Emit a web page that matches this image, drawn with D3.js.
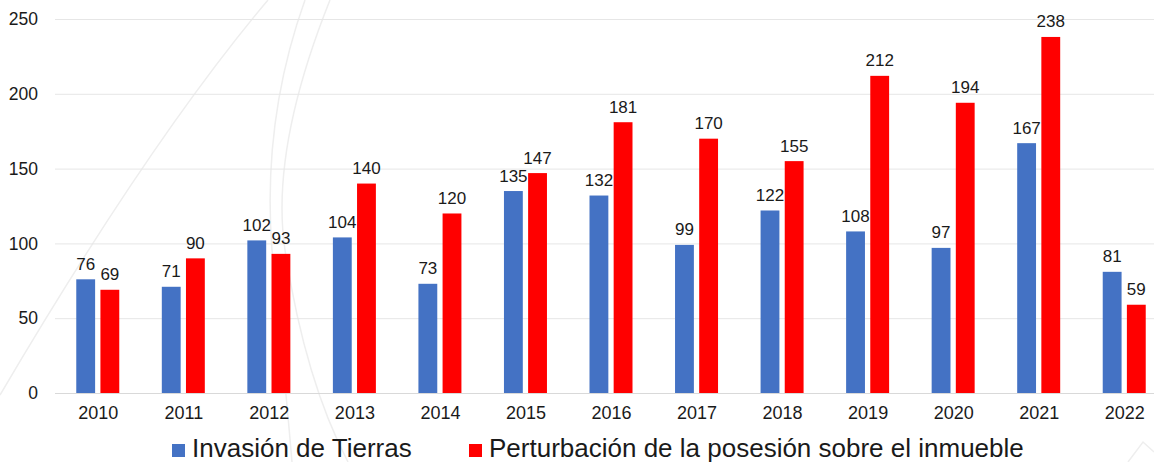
<!DOCTYPE html>
<html>
<head>
<meta charset="utf-8">
<script src="https://cdn.jsdelivr.net/npm/d3@7"></script>
<style>
  body { margin: 0; background: #fff; }
  text { font-family: "Liberation Sans", Arial, sans-serif; fill: #1a1a1a; }
</style>
</head>
<body>
<svg id="svg"></svg>
<script>
var years    = ["2010", "2011", "2012", "2013", "2014", "2015", "2016", "2017", "2018", "2019", "2020", "2021", "2022"];
var invasion = [76, 71, 102, 104, 73, 135, 132, 99, 122, 108, 97, 167, 81];
var perturb  = [69, 90, 93, 140, 120, 147, 181, 170, 155, 212, 194, 238, 59];
var seriesNames  = ["Invasión de Tierras", "Perturbación de la posesión sobre el inmueble"];
var seriesColors = ["#4472C4", "#FF0000"];
var yTicks = [0, 50, 100, 150, 200, 250];

var W = 1154, H = 462;
var svg = d3.select("#svg").attr("width", W).attr("height", H);

// faint decorative watermark curves in the background
var wm = svg.append("g").attr("fill", "none").attr("stroke", "#eeeeee").attr("stroke-width", 1.5);
wm.append("path").attr("d", "M268,0 Q150,140 0,395");
wm.append("path").attr("d", "M305,0 Q262,120 272,250 Q285,380 292,462");
wm.append("path").attr("d", "M330,0 Q270,150 285,250 Q305,380 348,462");
wm.append("path").attr("d", "M1128,462 L1143,442 L1154,452");

var x = d3.scalePoint().domain(years).range([55, 1167]).padding(0.5);
var y = d3.scaleLinear().domain([0, 250]).range([393, 19]);
var xs = d3.scaleBand().domain([0, 1]).range([-21.5, 21.5]).paddingInner(0.22);

// gridlines
svg.append("g").selectAll("line").data(yTicks).enter().append("line")
  .attr("x1", 55).attr("x2", 1167)
  .attr("y1", function(d) { return y(d) + 0.5; })
  .attr("y2", function(d) { return y(d) + 0.5; })
  .attr("stroke", function(d) { return d === 0 ? "#d9d9d9" : "#e6e6e6"; })
  .attr("stroke-width", 1);

// y axis labels
var yAxis = d3.axisLeft(y).tickValues(yTicks).tickSize(0).tickPadding(0);
svg.append("g").attr("transform", "translate(38,0)").call(yAxis)
  .call(function(g) { g.select(".domain").remove(); })
  .selectAll("text").attr("font-size", 17.5).style("font-family", "Liberation Sans, Arial, sans-serif").attr("fill", "#1a1a1a");

// x axis labels
var xAxis = d3.axisBottom(x).tickSize(0).tickPadding(0);
svg.append("g").attr("transform", "translate(0,406)").call(xAxis)
  .call(function(g) { g.select(".domain").remove(); })
  .selectAll("text").attr("font-size", 18).style("font-family", "Liberation Sans, Arial, sans-serif").attr("fill", "#1a1a1a");

var rows = years.map(function(yr, i) { return {year: yr, vals: [invasion[i], perturb[i]]}; });

var groups = svg.append("g").selectAll("g").data(rows).enter().append("g")
  .attr("transform", function(d) { return "translate(" + x(d.year) + ",0)"; });

groups.selectAll("rect").data(function(d) { return d.vals.map(function(v, k) { return {k: k, v: v}; }); })
  .enter().append("rect")
  .attr("x", function(d) { return xs(d.k); })
  .attr("width", xs.bandwidth())
  .attr("y", function(d) { return y(d.v); })
  .attr("height", function(d) { return y(0) - y(d.v); })
  .attr("fill", function(d) { return seriesColors[d.k]; });

groups.selectAll("text.val").data(function(d) { return d.vals.map(function(v, k) { return {k: k, v: v}; }); })
  .enter().append("text").attr("class", "val")
  .attr("x", function(d) { return xs(d.k) + xs.bandwidth() / 2; })
  .attr("y", function(d) { return y(d.v) - 9.5; })
  .attr("text-anchor", "middle")
  .attr("font-size", 17)
  .text(function(d) { return d.v; });

// legend
var legX = [172, 469];
var leg = svg.append("g");
seriesNames.forEach(function(name, k) {
  leg.append("rect").attr("x", legX[k]).attr("y", 444).attr("width", 13).attr("height", 13).attr("fill", seriesColors[k]);
  leg.append("text").attr("x", legX[k] + 20).attr("y", 457).attr("font-size", 26).text(name);
});
</script>
</body>
</html>
